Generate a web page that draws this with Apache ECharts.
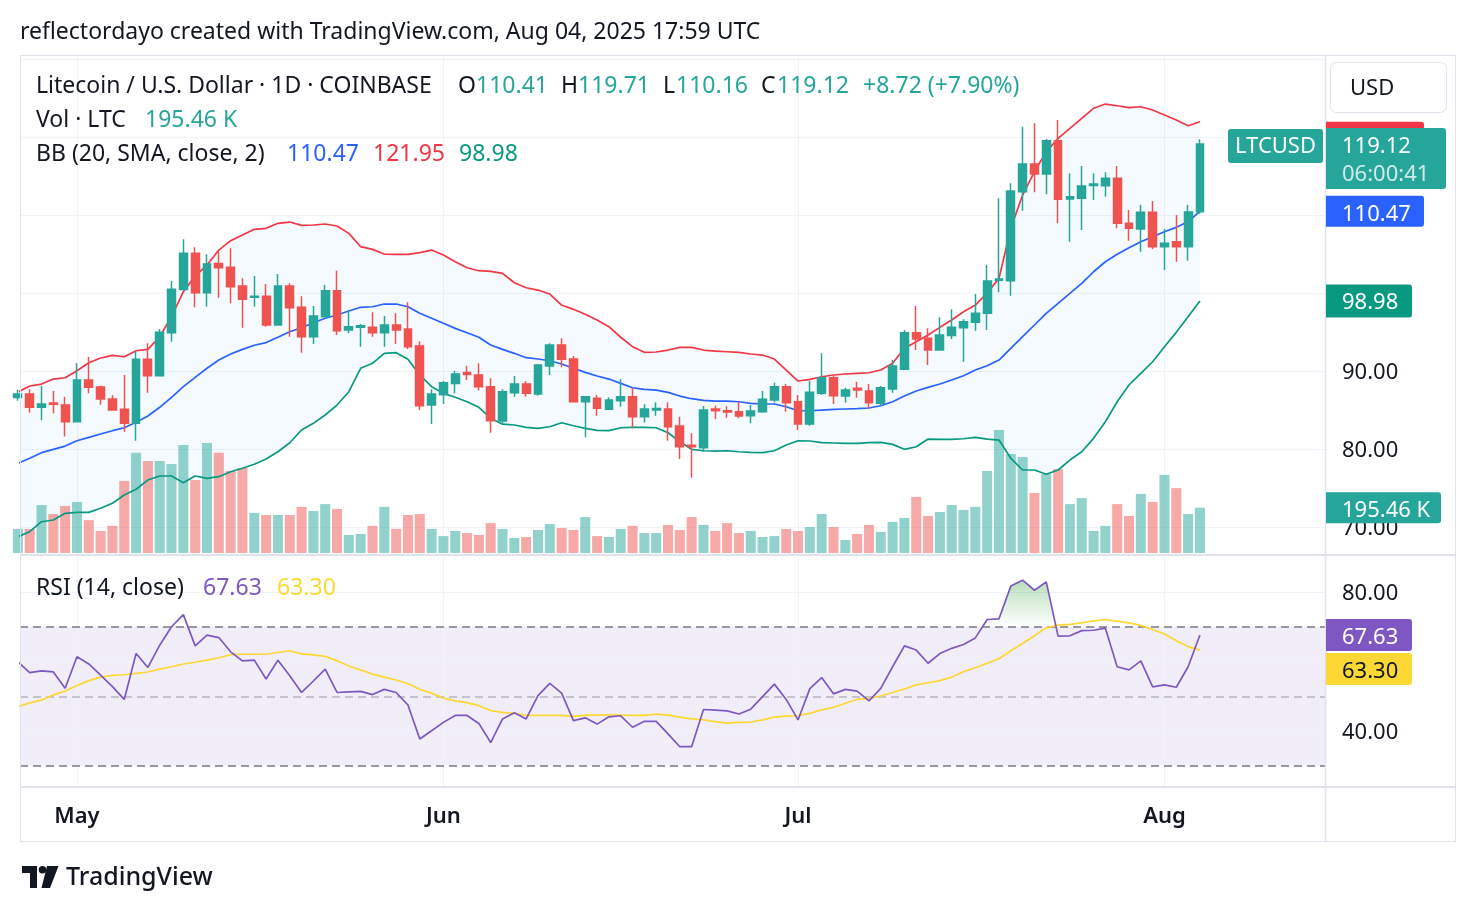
<!DOCTYPE html>
<html>
<head>
<meta charset="utf-8">
<title>LTCUSD 1D</title>
<script src="https://cdn.jsdelivr.net/npm/echarts@6/dist/echarts.min.js"></script>
<style>
  html, body { margin: 0; padding: 0; background: #fff; }
  #main { width: 1476px; height: 912px; }
</style>
</head>
<body>
<div id="main"></div>
<script>
// daily candles, Apr 26 -> Aug 4 2025
const dates = [
  '2025-04-26','2025-04-27','2025-04-28','2025-04-29','2025-04-30',
  '2025-05-01','2025-05-02','2025-05-03','2025-05-04','2025-05-05','2025-05-06','2025-05-07','2025-05-08',
  '2025-05-09','2025-05-10','2025-05-11','2025-05-12','2025-05-13','2025-05-14','2025-05-15','2025-05-16',
  '2025-05-17','2025-05-18','2025-05-19','2025-05-20','2025-05-21','2025-05-22','2025-05-23','2025-05-24',
  '2025-05-25','2025-05-26','2025-05-27','2025-05-28','2025-05-29','2025-05-30','2025-05-31',
  '2025-06-01','2025-06-02','2025-06-03','2025-06-04','2025-06-05','2025-06-06','2025-06-07','2025-06-08',
  '2025-06-09','2025-06-10','2025-06-11','2025-06-12','2025-06-13','2025-06-14','2025-06-15','2025-06-16',
  '2025-06-17','2025-06-18','2025-06-19','2025-06-20','2025-06-21','2025-06-22','2025-06-23','2025-06-24',
  '2025-06-25','2025-06-26','2025-06-27','2025-06-28','2025-06-29','2025-06-30',
  '2025-07-01','2025-07-02','2025-07-03','2025-07-04','2025-07-05','2025-07-06','2025-07-07','2025-07-08',
  '2025-07-09','2025-07-10','2025-07-11','2025-07-12','2025-07-13','2025-07-14','2025-07-15','2025-07-16',
  '2025-07-17','2025-07-18','2025-07-19','2025-07-20','2025-07-21','2025-07-22','2025-07-23','2025-07-24',
  '2025-07-25','2025-07-26','2025-07-27','2025-07-28','2025-07-29','2025-07-30','2025-07-31',
  '2025-08-01','2025-08-02','2025-08-03','2025-08-04'
];
const monthNames = ['Jan','Feb','Mar','Apr','May','Jun','Jul','Aug','Sep','Oct','Nov','Dec'];

const openP = [86.6, 87.05, 85.35, 85.9, 85.64, 83.5, 88.85, 87.95, 86.41, 85.09,
  83.3, 91.5, 89.4, 94.9, 100.45, 105.09, 100.04, 103.8, 103.3, 100.9,
  99.45, 99.6, 95.9, 100.9, 98.17, 94.4, 96.96, 100.29, 95.26, 95.6,
  95.6, 94.91, 95.9, 95.4, 93.2, 85.64, 86.96, 88.4, 89.8, 89.5,
  88.0, 83.59, 87.23, 88.33, 87.05, 90.64, 93.33, 91.54, 86.06, 86.5,
  85.1, 86.2, 86.7, 84.14, 85.0, 85.13, 82.95, 80.5, 80.17, 85.13,
  84.9, 84.78, 84.27, 84.78, 86.28, 88.0, 86.06, 83.21, 87.14, 89.14,
  86.8, 87.78, 87.44, 85.86, 87.69, 90.22, 94.91, 94.2, 92.69, 94.55,
  95.55, 96.24, 97.4, 101.65, 101.58, 113.0, 116.54, 115.26, 119.53, 112.05,
  112.14, 113.78, 113.76, 114.71, 108.94, 108.2, 110.35, 105.94, 106.58, 105.94,
  110.41];
const highP = [87.6, 87.65, 88.1, 87.44, 86.7, 90.99, 91.83, 88.1, 86.9, 89.5,
  92.47, 93.55, 95.38, 101.54, 106.88, 105.86, 104.96, 105.3, 105.73, 101.88,
  102.18, 101.15, 102.44, 101.24, 99.6, 98.33, 101.03, 102.86, 97.82, 96.03,
  97.53, 97.05, 97.4, 98.81, 93.81, 87.65, 88.72, 90.04, 90.68, 91.0,
  89.06, 87.65, 89.36, 88.72, 90.9, 93.55, 94.19, 91.92, 86.8, 86.92,
  86.63, 88.97, 87.86, 85.74, 85.99, 85.99, 84.14, 82.01, 85.51, 85.55,
  85.5, 86.06, 85.64, 87.44, 88.5, 88.33, 86.92, 88.76, 92.27, 89.36,
  87.86, 88.63, 88.33, 88.08, 91.41, 95.26, 98.33, 95.47, 96.88, 97.91,
  96.63, 99.87, 103.59, 112.14, 114.06, 121.32, 121.76, 119.74, 122.18, 115.35,
  116.28, 115.35, 115.47, 116.28, 110.64, 111.28, 111.8, 108.2, 110.0, 111.28,
  119.71];
const lowP = [86.2, 84.65, 83.7, 84.58, 81.6, 83.4, 87.14, 85.68, 84.9, 82.22,
  81.06, 87.22, 89.35, 93.76, 100.3, 98.17, 98.24, 99.4, 98.68, 95.55,
  98.24, 95.68, 95.8, 94.4, 92.35, 93.46, 96.9, 94.62, 94.83, 93.12,
  94.4, 93.12, 93.46, 92.82, 85.0, 83.21, 85.77, 87.14, 88.85, 87.5,
  82.1, 83.3, 86.7, 86.7, 86.83, 89.49, 90.47, 86.0, 81.5, 84.27,
  85.0, 85.42, 82.65, 83.4, 84.27, 81.06, 78.72, 76.32, 79.65, 83.85,
  84.0, 83.94, 83.3, 84.65, 85.96, 84.78, 82.44, 82.99, 86.92, 85.77,
  85.96, 86.58, 85.17, 85.55, 87.22, 90.13, 92.69, 90.77, 92.6, 94.1,
  91.2, 95.17, 95.26, 100.09, 99.65, 110.55, 112.91, 112.65, 108.94, 106.58,
  108.08, 111.92, 112.36, 108.3, 106.71, 105.3, 105.64, 102.95, 104.01, 104.14,
  110.16];
const closeP = [87.05, 85.35, 85.77, 85.75, 83.5, 88.85, 87.91, 86.41, 85.0, 83.3,
  91.5, 89.4, 94.96, 100.47, 105.09, 100.04, 103.72, 103.24, 100.81, 99.19,
  99.6, 95.9, 100.9, 98.12, 94.4, 97.05, 100.29, 95.17, 95.68, 95.8,
  94.91, 95.9, 95.26, 93.12, 85.55, 87.05, 88.5, 89.62, 89.56, 88.0,
  83.63, 87.35, 88.33, 87.14, 90.77, 93.33, 91.5, 86.06, 86.7, 85.22,
  86.28, 86.7, 84.14, 85.13, 85.2, 82.86, 80.3, 80.3, 85.0, 84.9,
  84.74, 84.23, 84.87, 86.37, 88.0, 85.94, 83.21, 87.27, 89.14, 86.83,
  87.56, 87.56, 85.94, 87.86, 90.64, 94.91, 94.1, 92.69, 94.62, 95.6,
  96.32, 97.4, 101.54, 101.8, 113.08, 116.54, 115.26, 119.53, 112.01, 112.35,
  113.72, 113.97, 114.71, 108.94, 108.3, 110.35, 105.94, 106.37, 105.94, 110.40,
  119.12];
// volume in thousands of LTC
const volumeK = [104, 104, 207, 168, 203, 220, 142, 95, 117, 311,
  432, 397, 397, 384, 466, 315, 475, 432, 354, 367,
  173, 164, 164, 164, 199, 181, 211, 190, 78, 82,
  117, 199, 104, 164, 168, 104, 73, 95, 86, 78,
  129, 104, 65, 69, 99, 125, 108, 99, 155, 73,
  69, 104, 117, 86, 86, 121, 99, 155, 121, 95,
  129, 86, 95, 69, 73, 104, 95, 112, 168, 112,
  56, 82, 121, 91, 134, 151, 242, 160, 177, 207,
  186, 199, 354, 531, 427, 414, 259, 341, 362, 211,
  237, 95, 117, 211, 160, 255, 220, 337, 280, 168,
  195.46];
// Bollinger bands (20, SMA, close, 2)
const bbUpper = [87.3, 88.08, 88.33, 88.97, 89.14, 90.04, 91.06, 91.67, 92.01, 91.83,
  92.6, 92.78, 94.4, 96.96, 100.17, 102.18, 103.59, 105.51, 106.71, 107.44,
  108.17, 108.3, 108.94, 109.1, 108.68, 108.72, 108.85, 108.59, 107.65, 105.94,
  105.6, 105.0, 104.96, 104.96, 105.17, 105.51, 104.87, 104.01, 103.24, 102.86,
  102.78, 102.53, 101.32, 100.68, 100.38, 99.87, 98.46, 97.91, 97.27, 96.54,
  95.68, 94.33, 93.12, 92.4, 92.44, 92.69, 93.04, 93.04, 92.69, 92.56,
  92.47, 92.38, 92.18, 92.05, 91.54, 90.13, 88.72, 88.94, 89.27, 89.49,
  89.62, 89.71, 89.78, 90.13, 90.99, 92.91, 93.76, 94.62, 95.6, 96.54,
  97.6, 98.46, 100.0, 101.88, 108.3, 112.56, 115.55, 118.12, 119.83, 121.12,
  122.4, 123.68, 124.23, 124.01, 123.76, 123.88, 123.46, 122.82, 122.18, 121.45,
  121.95];
const bbBasis = [78.17, 78.81, 79.53, 79.96, 80.38, 81.06, 81.5, 81.92, 82.35, 82.73,
  83.42, 84.23, 85.35, 86.63, 87.99, 89.19, 90.35, 91.41, 92.18, 92.78,
  93.3, 93.65, 94.32, 95.04, 95.55, 96.19, 96.76, 97.18, 97.69, 98.17,
  98.24, 98.59, 98.59, 98.24, 97.4, 96.76, 96.12, 95.47, 94.91, 94.32,
  93.33, 92.78, 92.27, 91.71, 91.54, 91.32, 90.9, 90.35, 89.83, 89.36,
  88.97, 88.42, 87.86, 87.65, 87.56, 87.27, 86.79, 86.45, 86.24, 86.15,
  86.15, 86.06, 85.86, 85.77, 85.77, 85.42, 84.91, 84.91, 85.0, 85.09,
  85.13, 85.17, 85.26, 85.55, 86.06, 86.79, 87.44, 87.91, 88.33, 88.85,
  89.4, 90.13, 90.68, 91.41, 92.91, 94.4, 95.9, 97.4, 98.68, 99.96,
  101.24, 102.73, 104.01, 104.96, 105.81, 106.58, 107.22, 107.86, 108.42, 109.14,
  110.47];
const bbLower = [68.76, 69.4, 70.68, 70.9, 71.76, 71.88, 71.88, 72.4, 73.04, 74.1,
  74.83, 76.03, 76.54, 76.54, 75.68, 76.54, 76.24, 76.45, 77.09, 77.53,
  78.04, 78.72, 79.65, 80.81, 82.44, 83.29, 84.36, 85.64, 87.35, 90.35,
  90.99, 92.27, 92.35, 91.5, 89.49, 87.99, 87.14, 86.63, 86.06, 85.35,
  83.94, 83.19, 83.08, 82.78, 82.65, 82.86, 83.37, 82.99, 82.65, 82.4,
  82.35, 82.73, 82.78, 82.78, 82.73, 82.09, 80.94, 79.96, 79.78, 79.74,
  79.78, 79.65, 79.58, 79.53, 79.78, 80.51, 81.06, 81.03, 80.81, 80.77,
  80.73, 80.73, 80.81, 80.86, 80.6, 79.96, 80.29, 81.28, 81.24, 81.24,
  81.32, 81.5, 81.28, 81.15, 78.81, 77.31, 77.31, 76.76, 77.31, 78.59,
  79.65, 81.37, 83.5, 86.06, 88.21, 89.71, 91.19, 93.12, 94.96, 96.96,
  98.98];
// RSI (14, close) and its moving average
const rsi = [59.9, 56.8, 57.3, 57.0, 52.3, 61.4, 59.3, 56.1, 52.8, 49.1,
  62.3, 58.3, 64.7, 70.0, 73.5, 64.5, 67.6, 66.9, 62.8, 60.2,
  60.4, 55.0, 60.4, 55.9, 51.1, 54.4, 57.8, 51.1, 51.3, 51.4,
  50.5, 52.0, 51.1, 47.5, 37.7, 40.1, 42.5, 44.5, 44.5, 42.2,
  36.7, 43.5, 45.3, 43.5, 50.2, 53.7, 50.9, 43.0, 43.8, 42.0,
  44.1, 44.4, 41.1, 42.8, 42.8, 39.2, 35.5, 35.5, 46.2, 46.0,
  45.8, 44.9, 46.3, 49.9, 53.5, 49.1, 43.2, 52.2, 55.4, 50.7,
  52.0, 51.5, 48.7, 52.3, 58.5, 64.5, 63.3, 59.5, 62.3, 63.8,
  64.9, 66.8, 72.1, 72.3, 81.7, 83.4, 80.5, 82.9, 67.3, 67.4,
  68.9, 69.0, 69.6, 58.5, 57.6, 60.2, 52.7, 53.3, 52.6, 58.5,
  67.63];
const rsiMa = [47.0, 48.1, 48.9, 50.4, 51.5, 53.1, 54.5, 55.5, 56.0, 56.2,
  56.6, 57.0, 57.8, 58.5, 59.3, 59.8, 60.4, 61.1, 62.0, 62.1,
  62.1, 62.1, 62.6, 63.1, 62.2, 61.9, 61.5, 60.2, 58.7, 57.6,
  56.4, 55.5, 54.7, 53.7, 52.0, 50.9, 49.5, 48.7, 48.2, 47.3,
  45.9, 45.4, 45.1, 44.5, 44.5, 44.5, 44.5, 44.2, 44.5, 44.6,
  44.7, 44.6, 44.5, 44.5, 44.9, 44.6, 44.0, 43.5, 43.2, 42.7,
  42.3, 42.5, 42.6, 43.2, 44.0, 44.3, 44.4, 45.1, 46.1, 46.8,
  48.0, 49.1, 49.4, 50.1, 51.1, 52.1, 53.3, 53.9, 54.5, 55.5,
  57.1, 58.2, 59.5, 60.8, 63.1, 65.2, 67.4, 69.7, 70.5, 70.7,
  71.1, 71.7, 72.1, 71.6, 71.1, 70.4, 69.2, 67.9, 66.0, 64.3,
  63.30];

const priceGrid = [70, 80, 90, 100, 110, 120, 130];
const priceLabels = [70, 80, 90];      // the others sit under the value tags
const rsiGrid = [40, 60, 80];
const rsiLabels = [40, 80];
const rsiBands = [30, 50, 70];

const FONT = '"Noto Sans", Roboto, sans-serif';
const TXT = '#131722';
const UP = '#26a69a', DOWN = '#ef5350';
const GRIDC = '#f0f3fa';
const N = dates.length;

// index of the first day of each month -> time axis labels
const monthStarts = [];
dates.forEach((d, i) => { if (d.slice(8) === '01') monthStarts.push(i); });

const xy = arr => arr.map((v, i) => [i, v]);
const isUp = i => closeP[i] >= openP[i];
const clipRect = cs => ({ type: 'rect', shape: { x: cs.x, y: cs.y, width: cs.width, height: cs.height } });

const chart = echarts.init(document.getElementById('main'));

const vLines = monthStarts.map(i => ({ xAxis: i }));
const gridLine = { color: GRIDC, width: 1, type: 'solid' };
const priceLabel = {
  margin: 17,
  formatter: v => '{v|' + v.toFixed(2) + '}',
  rich: { v: { fontSize: 22, color: TXT, fontFamily: FONT, padding: [4, 0, 0, 0] } }
};

chart.setOption({
  animation: false,
  backgroundColor: '#ffffff',
  textStyle: { fontFamily: FONT },
  grid: [
    { left: 20, top: 57, width: 1305, height: 496 },
    { left: 20, top: 557, width: 1305, height: 229 }
  ],
  xAxis: [
    { type: 'value', gridIndex: 0, min: 0.18, max: 110.58,
      axisLine: { show: false }, axisTick: { show: false }, axisLabel: { show: false }, splitLine: { show: false } },
    { type: 'value', gridIndex: 1, min: 0.18, max: 110.58,
      axisLine: { show: false }, axisTick: { show: false }, splitLine: { show: false },
      axisLabel: { customValues: monthStarts, margin: 20, fontSize: 22, color: TXT, fontFamily: FONT, fontWeight: 600,
        formatter: v => monthNames[+dates[Math.round(v)].slice(5, 7) - 1] } }
  ],
  yAxis: [
    { type: 'value', gridIndex: 0, position: 'right', min: 66.67, max: 130.26,
      axisLine: { show: false }, axisTick: { show: false }, splitLine: { show: false },
      axisLabel: Object.assign({ customValues: priceLabels }, priceLabel) },
    { type: 'value', gridIndex: 0, min: 0, max: 2140, show: false },
    { type: 'value', gridIndex: 1, position: 'right', min: 24.2, max: 90.07,
      axisLine: { show: false }, axisTick: { show: false }, splitLine: { show: false },
      axisLabel: Object.assign({ customValues: rsiLabels }, priceLabel) }
  ],
  series: [
    // band background between upper and lower
    { name: 'bbFill', type: 'custom', xAxisIndex: 0, yAxisIndex: 0, silent: true, z: 2,
      data: [[N - 1, bbBasis[N - 1]]],
      renderItem: (params, api) => {
        const pts = [];
        for (let i = 0; i < N; i++) pts.push(api.coord([i, bbUpper[i]]));
        for (let i = N - 1; i >= 0; i--) pts.push(api.coord([i, bbLower[i]]));
        return { type: 'polygon', shape: { points: pts }, style: { fill: 'rgba(33,150,243,0.05)' },
          clipPath: clipRect(params.coordSys) };
      } },
    { name: 'Volume', type: 'bar', xAxisIndex: 0, yAxisIndex: 1, barWidth: 10,
      data: volumeK.map((v, i) => ({ value: [i, v], itemStyle: { color: isUp(i) ? 'rgba(38,166,154,0.5)' : 'rgba(239,83,80,0.5)' } })),
      z: 3 },
    { name: 'Upper', type: 'line', xAxisIndex: 0, yAxisIndex: 0, data: xy(bbUpper), showSymbol: false,
      lineStyle: { color: '#f23645', width: 1.7 }, z: 4 },
    { name: 'Basis', type: 'line', xAxisIndex: 0, yAxisIndex: 0, data: xy(bbBasis), showSymbol: false,
      lineStyle: { color: '#2962ff', width: 1.7 }, z: 4,
      markLine: { silent: true, symbol: 'none', z: 1, label: { show: false }, lineStyle: gridLine,
        data: priceGrid.map(v => ({ yAxis: v })).concat(vLines) } },
    { name: 'Lower', type: 'line', xAxisIndex: 0, yAxisIndex: 0, data: xy(bbLower), showSymbol: false,
      lineStyle: { color: '#089981', width: 1.7 }, z: 4 },
    { name: 'LTCUSD', type: 'candlestick', xAxisIndex: 0, yAxisIndex: 0, barWidth: 8.3,
      encode: { x: 0, y: [1, 2, 3, 4] },
      data: dates.map((d, i) => [i, openP[i], closeP[i], lowP[i], highP[i]]),
      itemStyle: { color: UP, color0: DOWN, borderColor: UP, borderColor0: DOWN, borderWidth: 1.5 },
      z: 5 },

    // RSI pane: overbought fill above 70
    { name: 'obFill', type: 'custom', xAxisIndex: 1, yAxisIndex: 2, silent: true, z: 2,
      data: [[N - 1, rsi[N - 1]]],
      renderItem: (params, api) => {
        const pts = rsi.map((v, i) => api.coord([i, v]));
        const y70 = api.coord([0, 70])[1];
        const yTop = api.coord([0, Math.max.apply(null, rsi)])[1];
        pts.push([pts[N - 1][0], y70], [pts[0][0], y70]);
        const cs = params.coordSys;
        return { type: 'polygon', shape: { points: pts },
          style: { fill: new echarts.graphic.LinearGradient(0, yTop, 0, y70, [
            { offset: 0, color: 'rgba(76,175,80,0.4)' }, { offset: 1, color: 'rgba(76,175,80,0)' }], true) },
          clipPath: { type: 'rect', shape: { x: cs.x, y: cs.y, width: cs.width, height: y70 - cs.y } } };
      } },
    { name: 'RSI MA', type: 'line', xAxisIndex: 1, yAxisIndex: 2, data: xy(rsiMa), showSymbol: false,
      lineStyle: { color: '#fdd835', width: 1.7 }, z: 4,
      markArea: { silent: true, z: 0.5, itemStyle: { color: 'rgba(126,87,194,0.1)' },
        data: [[{ yAxis: rsiBands[0] }, { yAxis: rsiBands[2] }]] },
      markLine: { silent: true, symbol: 'none', z: 1, label: { show: false },
        data: rsiGrid.map(v => ({ yAxis: v, lineStyle: gridLine }))
          .concat(vLines.map(o => Object.assign({ lineStyle: gridLine }, o)))
          .concat(rsiBands.map(v => ({ yAxis: v, lineStyle: {
            color: v === 50 ? 'rgba(120,123,134,0.5)' : '#787b86', width: 1.5, type: [8, 5] } }))) } },
    { name: 'RSI', type: 'line', xAxisIndex: 1, yAxisIndex: 2, data: xy(rsi), showSymbol: false,
      lineStyle: { color: '#7e57c2', width: 1.7 }, z: 5 }
  ]
});

// ---- overlay text, frame and last-value tags ----
const last = N - 1;
const fmt = v => v.toFixed(2);
const chg = closeP[last] - closeP[last - 1];
const chgPct = chg / closeP[last - 1] * 100;

function txt(x, y, text, color, size, extra) {
  return { type: 'text', x: x, y: y, z: 100, silent: true,
    style: Object.assign({ text: text, fill: color, fontSize: size || 23, fontFamily: FONT,
      verticalAlign: 'middle', align: 'left' }, extra || {}) };
}
function box(x, y, w, h, color, r) {
  return { type: 'rect', z: 99, silent: true, shape: { x: x, y: y, width: w, height: h, r: r || 0 },
    style: { fill: color } };
}
function hline(x1, x2, y, w) {
  return { type: 'line', z: 98, silent: true, shape: { x1: x1, y1: y, x2: x2, y2: y }, style: { stroke: '#e0e3eb', lineWidth: w || 1 } };
}
function vline(x, y1, y2, w) {
  return { type: 'line', z: 98, silent: true, shape: { x1: x, y1: y1, x2: x, y2: y2 }, style: { stroke: '#e0e3eb', lineWidth: w || 1 } };
}

const py = v => chart.convertToPixel({ yAxisIndex: 0 }, v);
const vy = v => chart.convertToPixel({ yAxisIndex: 1 }, v);
const ry = v => chart.convertToPixel({ yAxisIndex: 2 }, v);

const closeY = py(closeP[last]);
const upperY = py(bbUpper[last]);
const basisY = py(bbBasis[last]);
const lowerY = py(bbLower[last]);
const volY = vy(volumeK[last]);
const rsiY = ry(rsi[last]);
const maY = Math.max(ry(rsiMa[last]), rsiY + 34);

const G = '#26a69a';
const graphics = [
  // frame
  hline(20, 1456, 55.5, 1), hline(20, 1456, 841.5, 1),
  vline(20.5, 55, 842, 1), vline(1455.5, 55, 842, 1),
  hline(20, 1456, 555, 2), hline(20, 1456, 787, 2), vline(1325.5, 55, 842, 1.5),

  txt(20, 32, 'reflectordayo created with TradingView.com, Aug 04, 2025 17:59 UTC', TXT),

  txt(36, 86, 'Litecoin / U.S. Dollar · 1D · COINBASE', TXT),
  txt(458, 86, 'O', TXT), txt(476, 86, fmt(openP[last]), G),
  txt(561, 86, 'H', TXT), txt(578, 86, fmt(highP[last]), G),
  txt(663, 86, 'L', TXT), txt(676, 86, fmt(lowP[last]), G),
  txt(761, 86, 'C', TXT), txt(777, 86, fmt(closeP[last]), G),
  txt(863, 86, '+' + chg.toFixed(2) + ' (+' + chgPct.toFixed(2) + '%)', G),

  txt(36, 120, 'Vol · LTC', TXT), txt(145, 120, volumeK[last].toFixed(2) + ' K', G),

  txt(36, 154, 'BB (20, SMA, close, 2)', TXT),
  txt(287, 154, fmt(bbBasis[last]), '#2962ff'),
  txt(373, 154, fmt(bbUpper[last]), '#f23645'),
  txt(459, 154, fmt(bbLower[last]), '#089981'),

  txt(36, 588, 'RSI (14, close)', TXT),
  txt(203, 588, fmt(rsi[last]), '#7e57c2'),
  txt(277, 588, fmt(rsiMa[last]), '#fdd835'),

  // currency button
  { type: 'rect', z: 99, silent: true, shape: { x: 1330.5, y: 62.5, width: 116, height: 50, r: 6 },
    style: { fill: '#fff', stroke: '#e0e3eb', lineWidth: 1 } },
  txt(1350, 89, 'USD', TXT, 22),

  // last value tags
  box(1326, upperY, 98, closeY - 16 - upperY + 2, '#f23645', [0, 3, 3, 0]),
  box(1228, closeY - 15, 95, 34, G, 3),
  txt(1275.5, closeY + 3, 'LTCUSD', '#fff', 22, { align: 'center' }),
  box(1326, closeY - 16, 120, 61, G, [0, 3, 3, 0]),
  txt(1342, closeY + 3, fmt(closeP[last]), '#fff', 22),
  txt(1342, closeY + 31, '06:00:41', 'rgba(255,255,255,0.78)', 22),
  box(1326, basisY - 15.5, 98, 31, '#2962ff', [0, 3, 3, 0]),
  txt(1342, basisY + 3, fmt(bbBasis[last]), '#fff', 22),
  box(1326, lowerY - 16.5, 86, 33, '#089981', [0, 3, 3, 0]),
  txt(1342, lowerY + 2, fmt(bbLower[last]), '#fff', 22),
  box(1326, volY - 15.5, 115, 31, G, [0, 3, 3, 0]),
  txt(1342, volY + 3, volumeK[last].toFixed(2) + ' K', '#fff', 22),
  box(1326, rsiY - 16, 86, 32, '#7e57c2', [0, 3, 3, 0]),
  txt(1342, rsiY + 3, fmt(rsi[last]), '#fff', 22),
  box(1326, maY - 16, 86, 32, '#fdd835', [0, 3, 3, 0]),
  txt(1342, maY + 3, fmt(rsiMa[last]), TXT, 22),

  // TradingView mark
  { type: 'polygon', z: 99, silent: true, shape: { points: [[22, 866], [37, 866], [37, 888], [30, 888], [30, 873], [22, 873]] }, style: { fill: TXT } },
  { type: 'circle', z: 99, silent: true, shape: { cx: 42.5, cy: 869.8, r: 3.8 }, style: { fill: TXT } },
  { type: 'polygon', z: 99, silent: true, shape: { points: [[47, 866], [58.5, 866], [50, 888], [41.5, 888]] }, style: { fill: TXT } },
  txt(66, 878, 'TradingView', TXT, 25, { fontWeight: 500 })
];

chart.setOption({ graphic: graphics });
</script>
</body>
</html>
